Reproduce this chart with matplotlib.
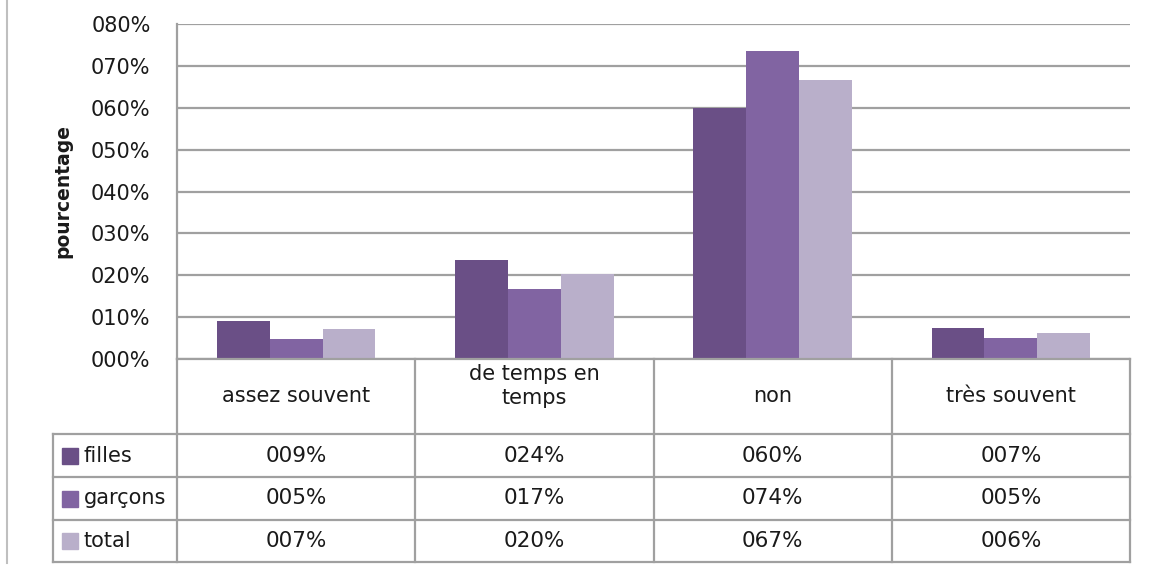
import matplotlib.pyplot as plt
from matplotlib.patches import Rectangle
from matplotlib.lines import Line2D

categories = ["assez souvent", "de temps en\ntemps", "non", "très souvent"]
series = ["filles", "garçons", "total"]
filles = [9.1, 23.6, 60.0, 7.3]
garcons = [4.8, 16.7, 73.6, 4.9]
total = [7.1, 20.3, 66.6, 6.1]
yticks = [0, 10, 20, 30, 40, 50, 60, 70, 80]
colors = ["#6A4F86", "#8164A2", "#B9AFCA"]

W, H = 1153, 567
grid_col = "#A0A0A0"
txt_col = "#1A1A1A"
font = "DejaVu Sans"

fig = plt.figure(figsize=(W / 100, H / 100), dpi=100)

# plot area in pixels
x0, x1, ytop, ybase = 177, 1130, 24, 359
ax = fig.add_axes([x0 / W, 1 - ybase / H, (x1 - x0) / W, (ybase - ytop) / H])
ax.set_xlim(-0.5, 3.5)
ax.set_ylim(0, 80)

bw = 0.222
for k, (vals, c) in enumerate(zip([filles, garcons, total], colors)):
    xs = [i + (k - 1) * bw for i in range(len(categories))]
    ax.bar(xs, vals, width=bw, color=c, edgecolor="none", zorder=3)

ax.set_yticks(yticks)
ax.set_yticklabels([f"{t:03d}%" for t in yticks], fontsize=15,
                   family=font, color=txt_col)
ax.tick_params(axis="y", length=0, pad=19)
ax.set_xticks([])
ax.yaxis.grid(True, color=grid_col, lw=1.6, zorder=0)
for s in ["top", "right", "bottom"]:
    ax.spines[s].set_visible(False)
ax.spines["left"].set_color(grid_col)
ax.spines["left"].set_linewidth(1.6)
ax.set_ylabel("pourcentage", fontsize=13.5, fontweight="bold",
              family=font, color=txt_col)
ax.yaxis.set_label_coords((72 - x0) / (x1 - x0), 0.5)

# data table below the plot, in pixel units
tleft, tbottom = 53, 562
rows = [359, 434, 477, 520, 562]
colw = (x1 - x0) / len(categories)
tax = fig.add_axes([tleft / W, 1 - tbottom / H, (x1 - tleft) / W,
                    (tbottom - ybase) / H])
tax.set_xlim(tleft, x1)
tax.set_ylim(tbottom, ybase)
tax.axis("off")

lk = dict(color=grid_col, lw=1.6, clip_on=False, solid_capstyle="projecting")
tax.plot([x0, x1], [rows[0], rows[0]], **lk)
for r in rows[1:]:
    tax.plot([tleft, x1], [r, r], **lk)
tax.plot([tleft, tleft], [rows[1], rows[-1]], **lk)
tax.plot([x0, x0], [rows[0], rows[-1]], **lk)
for i in range(1, len(categories) + 1):
    xc = x0 + i * colw
    tax.plot([xc, xc], [rows[0], rows[-1]], **lk)

for i, cat in enumerate(categories):
    cx = x0 + (i + 0.5) * colw
    ymid = (rows[0] + rows[1]) / 2 - 11 * cat.count("\n")
    tax.text(cx, ymid, cat, ha="center", va="center",
             fontsize=15, family=font, color=txt_col, linespacing=1.25)

for k, (name, vals, c) in enumerate(zip(series, [filles, garcons, total], colors)):
    ymid = (rows[k + 1] + rows[k + 2]) / 2
    tax.add_patch(Rectangle((62, ymid - 8), 16, 16, color=c, clip_on=False))
    tax.text(84, ymid, name, ha="left", va="center", fontsize=15,
             family=font, color=txt_col)
    for i, v in enumerate(vals):
        cx = x0 + (i + 0.5) * colw
        tax.text(cx, ymid, f"{round(v):03d}%", ha="center", va="center",
                 fontsize=15.5, family=font, color=txt_col)

# left border of the chart area
fig.add_artist(Line2D([7 / W, 7 / W], [1 - 563 / H, 1], color="#BFBFBF", lw=1.5))

fig.savefig("out.png", dpi=100)
